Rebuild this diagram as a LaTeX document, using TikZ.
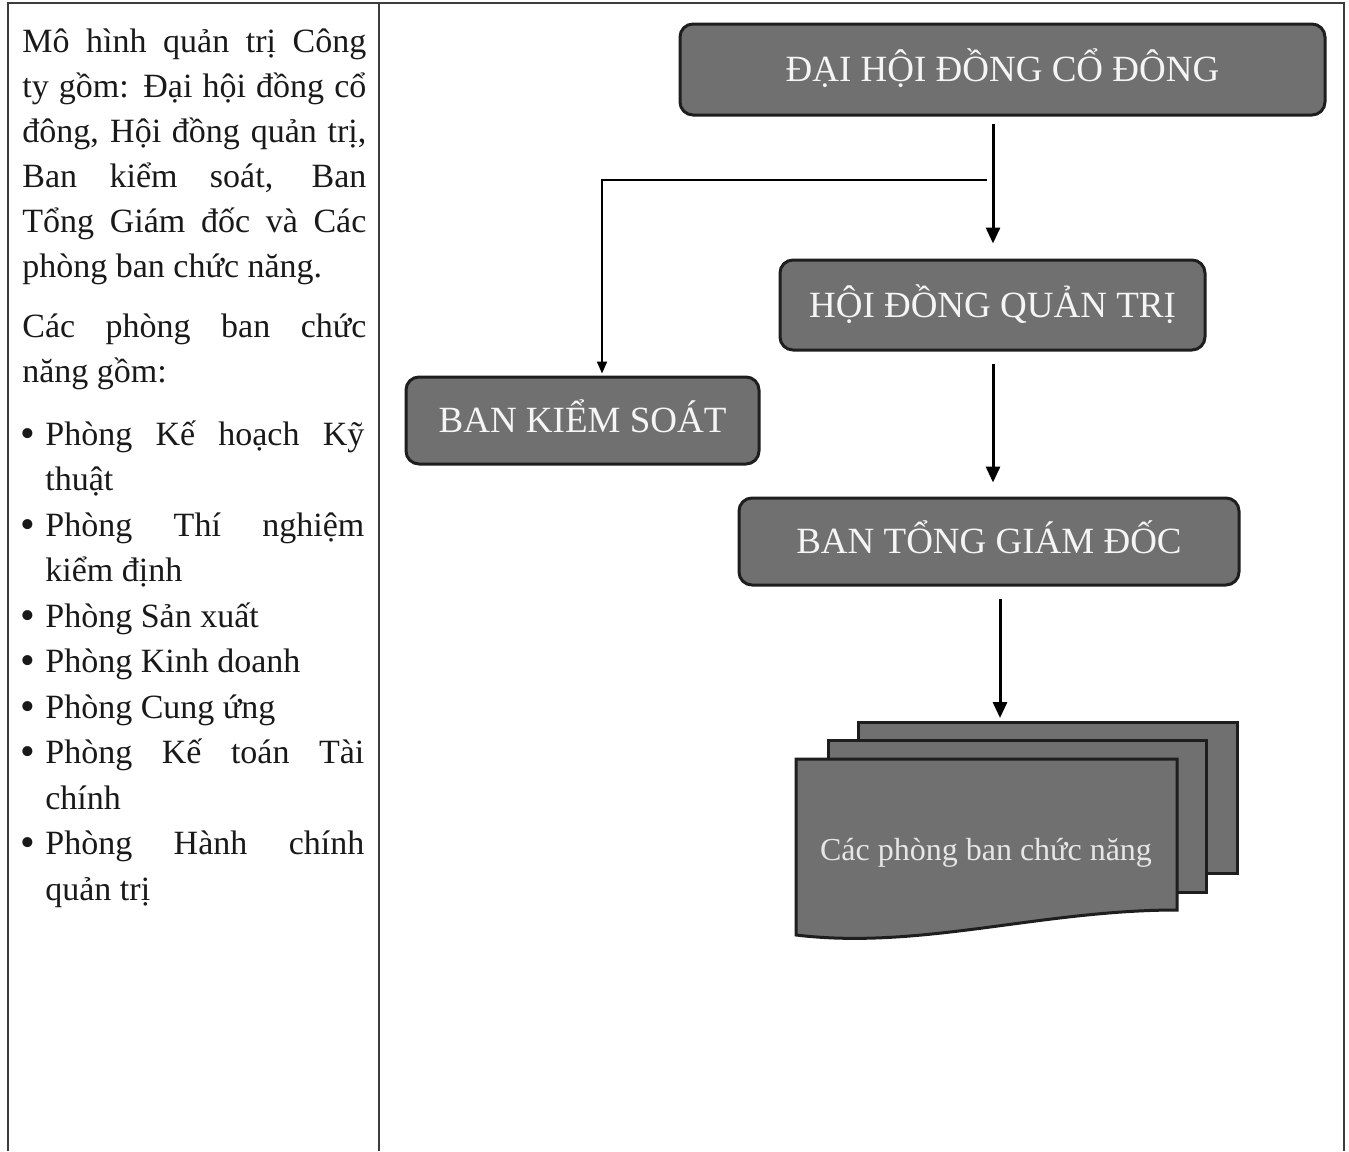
\documentclass[tikz,border=0pt]{standalone}
\usepackage{fontspec}
\setmainfont{Liberation Serif}
\usetikzlibrary{arrows.meta}
\definecolor{boxfill}{RGB}{112,112,112}
\definecolor{bord}{RGB}{30,30,30}
\definecolor{boxtxt}{RGB}{245,245,245}
\definecolor{txt}{RGB}{25,25,25}
\definecolor{rule}{RGB}{60,60,60}
\begin{document}
\begin{tikzpicture}[x=0.5pt,y=-0.5pt,
  ln/.style={anchor=base west, inner sep=0pt, font=\fontsize{17pt}{20pt}\selectfont, text=txt},
  bul/.style={anchor=base west, inner sep=0pt, font=\fontsize{21pt}{22pt}\selectfont, text=txt},
  box/.style={draw=bord, line width=1.5pt, fill=boxfill, rounded corners=6.5pt, text=boxtxt,
    font=\fontsize{18.5pt}{20pt}\selectfont, text height=12.2pt, text depth=0pt, inner sep=0pt},
  sheet/.style={draw=bord, line width=1.5pt, fill=boxfill},
  arr/.style={line width=1.5pt, draw=black, -{Triangle[length=8pt,width=7pt]}},
  arrb/.style={line width=1pt, draw=black, -{Triangle[length=6pt,width=5pt]}},
]
\useasboundingbox (0,0) rectangle (1349,1151);
\fill[white] (0,0) rectangle (1349,1151);
% table rules
\draw[rule, line width=1pt] (8,1151) -- (8,3) -- (1344,3) -- (1344,1151);
\draw[rule, line width=1.3pt] (379,3) -- (379,1151);

% left column text
\node[ln] (t1) at (22,52) {\makebox[172pt][s]{Mô hình quản trị Công}};
\node[ln] (t2) at (22,97) {\makebox[172pt][s]{ty gồm: Đại hội đồng cổ}};
\node[ln] (t3) at (22,142) {\makebox[172pt][s]{đông, Hội đồng quản trị,}};
\node[ln] (t4) at (22,187) {\makebox[172pt][s]{Ban kiểm soát, Ban}};
\node[ln] (t5) at (22,232) {\makebox[172pt][s]{Tổng Giám đốc và Các}};
\node[ln] (t6) at (22,277) {phòng ban chức năng.};
\node[ln] (t7) at (22,337) {\makebox[172pt][s]{Các phòng ban chức}};
\node[ln] (t8) at (22,382) {năng gồm:};

\node[bul] (d1) at (20,447) {•};
\node[ln] (b1) at (45,445) {\makebox[159.5pt][s]{Phòng Kế hoạch Kỹ}};
\node[ln] (b1b) at (45,490.5) {thuật};
\node[bul] (d2) at (20,538) {•};
\node[ln] (b2) at (45,536) {\makebox[159.5pt][s]{Phòng Thí nghiệm}};
\node[ln] (b2b) at (45,581.5) {kiểm định};
\node[bul] (d3) at (20,629) {•};
\node[ln] (b3) at (45,627) {Phòng Sản xuất};
\node[bul] (d4) at (20,674.5) {•};
\node[ln] (b4) at (45,672.5) {Phòng Kinh doanh};
\node[bul] (d5) at (20,720) {•};
\node[ln] (b5) at (45,718) {Phòng Cung ứng};
\node[bul] (d6) at (20,765.5) {•};
\node[ln] (b6) at (45,763.5) {\makebox[159.5pt][s]{Phòng Kế toán Tài}};
\node[ln] (b6b) at (45,809) {chính};
\node[bul] (d7) at (20,856.5) {•};
\node[ln] (b7) at (45,854.5) {\makebox[159.5pt][s]{Phòng Hành chính}};
\node[ln] (b7b) at (45,900) {quản trị};

% boxes
\node[box, minimum width=322.5pt, minimum height=45.5pt] (dh) at (1002.5,69.5) {ĐẠI HỘI ĐỒNG CỔ ĐÔNG};
\node[box, minimum width=212.5pt, minimum height=45pt] (hd) at (992.5,305) {HỘI ĐỒNG QUẢN TRỊ};
\node[box, minimum width=176.5pt, minimum height=43.5pt] (bks) at (582.5,420.5) {BAN KIỂM SOÁT};
\node[box, minimum width=250pt, minimum height=43.5pt] (bt) at (989,541.5) {BAN TỔNG GIÁM ĐỐC};

% document stack
\draw[sheet] (858,722) rectangle (1237,873);
\draw[sheet] (828,740) rectangle (1206,892);
\draw[sheet] (796,759) -- (1177,759) -- (1177,910)
  .. controls (1040,910) and (920,950) .. (796,935) -- cycle;
\node[anchor=base, inner sep=0pt, text={rgb,255:red,230;green,230;blue,230},
  font=\fontsize{16pt}{18pt}\selectfont] (doc) at (986,860) {Các phòng ban chức năng};
\coordinate (doctop) at (1000,722);

% connectors
\coordinate (j) at (993,180);
\coordinate (k) at (602,180);
\draw[arr, shorten <=3.5pt, shorten >=7.5pt] (dh.south -| j) -- (hd.north -| j);
\draw[arrb, shorten >=1pt] ([xshift=-3pt]j) -- (k) -- (k |- bks.north);
\draw[arr, shorten <=6pt, shorten >=7pt] (hd.south -| j) -- (bt.north -| j);
\draw[arr, shorten <=6pt, shorten >=2pt] (bt.south -| doctop) -- (doctop);
\end{tikzpicture}
\end{document}
